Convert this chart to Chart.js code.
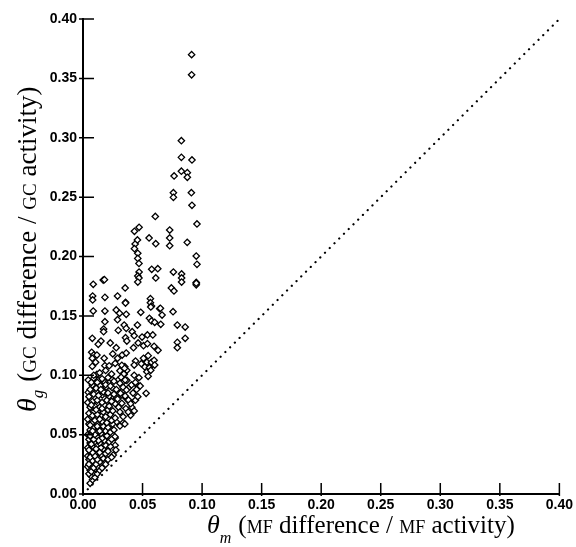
<!DOCTYPE html>
<html>
<head>
    <meta charset="UTF-8">
    <title>theta_g vs theta_m</title>
    <script src="https://cdn.jsdelivr.net/npm/chart.js"></script>
    <style>
        html, body { margin: 0; padding: 0; background: #fff; }
        #wrap { width: 576px; height: 547px; }
    </style>
</head>
<body>
<div id="wrap"><canvas id="scatter" width="576" height="547"></canvas></div>
<script>
    // tick values for both axes
    const tickValues = [0, 0.05, 0.1, 0.15, 0.2, 0.25, 0.3, 0.35, 0.4];

    // identity line (theta_g = theta_m)
    const diagX = [0, 0.4];
    const diagY = [0, 0.4];

    // theta_m (MF difference / MF activity)
    const thetaM = [
        0.0912, 0.0912, 0.0826, 0.0826, 0.0915, 0.0765, 0.0826, 0.0876, 0.0876, 0.0759, 0.0759, 0.0910, 0.0915,
        0.0607, 0.0957, 0.0432, 0.0471, 0.0728, 0.0728, 0.0555, 0.0438, 0.0457, 0.0611, 0.0728, 0.0875, 0.0432,
        0.0460, 0.0460, 0.0470, 0.0951, 0.0957, 0.0577, 0.0628, 0.0471, 0.0460, 0.0470, 0.0460, 0.0611, 0.0759,
        0.0828, 0.0828, 0.0828, 0.0951, 0.0951, 0.0951, 0.0742, 0.0764, 0.0086, 0.0170, 0.0180, 0.0354, 0.0081,
        0.0081, 0.0184, 0.0290, 0.0357, 0.0357, 0.0566, 0.0566, 0.0575, 0.0644,
        // 0.10 - 0.16 band
        0.0086, 0.0184, 0.0279, 0.0307, 0.0363, 0.0485, 0.0569, 0.0650, 0.0664, 0.0756, 0.0184, 0.0290, 0.0346,
        0.0363, 0.0457, 0.0558, 0.0575, 0.0602, 0.0653, 0.0792, 0.0858, 0.0858, 0.0792, 0.0792, 0.0173, 0.0173,
        0.0296, 0.0413, 0.0430, 0.0496, 0.0541, 0.0586, 0.0078, 0.0151, 0.0128, 0.0229, 0.0279, 0.0357, 0.0368,
        0.0424, 0.0463, 0.0508, 0.0541, 0.0597, 0.0630, 0.0073, 0.0090, 0.0078, 0.0117, 0.0106, 0.0078, 0.0178,
        0.0184, 0.0329, 0.0363, 0.0290, 0.0441, 0.0430, 0.0508, 0.0547, 0.0490, 0.0536, 0.0575, 0.0597, 0.0519,
        0.0558, 0.0602, 0.0536, 0.0569, 0.0547, 0.0351, 0.0368, 0.0346, 0.0117, 0.0530,
        // 0.08 - 0.10
        0.0044, 0.0090, 0.0128, 0.0184, 0.0240, 0.0296, 0.0329, 0.0368, 0.0407, 0.0463, 0.0379, 0.0329, 0.0245,
        0.0195, 0.0145, 0.0078, 0.0044, 0.0111, 0.0162, 0.0218, 0.0279, 0.0324, 0.0363, 0.0391,
        // column at 0.03 - 0.05
        0.0326, 0.0349, 0.0310, 0.0343, 0.0320, 0.0354, 0.0310, 0.0337, 0.0365, 0.0315, 0.0354, 0.0382, 0.0326,
        0.0299, 0.0310, 0.0337, 0.0399, 0.0281, 0.0310, 0.0248, 0.0226, 0.0198, 0.0170, 0.0270,
        0.0360, 0.0380, 0.0410, 0.0430, 0.0400, 0.0440, 0.0460, 0.0420, 0.0450, 0.0480, 0.0440, 0.0470, 0.0430,
        0.0270, 0.0276, 0.0254, 0.0268, 0.0337, 0.0351,
        // dense cloud near the origin
        0.006, 0.008, 0.007, 0.010, 0.005, 0.009, 0.012, 0.006, 0.011, 0.014, 0.004, 0.008, 0.012, 0.016, 0.019,
        0.006, 0.010, 0.014, 0.005, 0.009, 0.013, 0.017, 0.021, 0.004, 0.007, 0.011, 0.015, 0.019, 0.024, 0.006,
        0.009, 0.013, 0.017, 0.021, 0.004, 0.008, 0.012, 0.015, 0.019, 0.023, 0.006, 0.010, 0.014, 0.018, 0.022,
        0.005, 0.008, 0.012, 0.016, 0.020, 0.024, 0.004, 0.007, 0.011, 0.015, 0.019, 0.023, 0.006, 0.009, 0.013,
        0.017, 0.021, 0.026, 0.005, 0.008, 0.012, 0.016, 0.020, 0.024, 0.004, 0.007, 0.011, 0.015, 0.019, 0.023,
        0.027, 0.005, 0.009, 0.013, 0.017, 0.021, 0.025, 0.006, 0.010, 0.014, 0.018, 0.022, 0.027, 0.004, 0.008,
        0.012, 0.016, 0.020, 0.024, 0.029,
        0.007, 0.009, 0.005, 0.011, 0.008, 0.012, 0.006, 0.010, 0.014, 0.008, 0.005, 0.011, 0.007, 0.013, 0.009,
        0.006, 0.010, 0.014, 0.008, 0.012, 0.006, 0.010, 0.014, 0.008, 0.012, 0.016, 0.011, 0.007,
        0.005, 0.009, 0.013, 0.017, 0.021, 0.026, 0.006, 0.011, 0.015, 0.019, 0.023, 0.028, 0.007, 0.012, 0.016,
        0.021, 0.026, 0.009, 0.014, 0.019, 0.024, 0.022, 0.027, 0.025
    ];

    // theta_g (GC difference / GC activity), same order as thetaM
    const thetaG = [
        0.370, 0.353, 0.2975, 0.2835, 0.2813, 0.2678, 0.2718, 0.2706, 0.2667, 0.2537, 0.2498, 0.2537, 0.2431,
        0.2337, 0.2274, 0.2212, 0.2246, 0.2223, 0.2156, 0.2156, 0.2105, 0.2139, 0.2108, 0.2091, 0.2119, 0.2066,
        0.2027, 0.1984, 0.1942, 0.2004, 0.1934, 0.1892, 0.1897, 0.1869, 0.1836, 0.1819, 0.1785, 0.1819, 0.1869,
        0.1853, 0.1819, 0.1785, 0.1782, 0.1762, 0.1775, 0.1735, 0.1710, 0.1766, 0.1802, 0.1805, 0.1735, 0.1667,
        0.1634, 0.1656, 0.1667, 0.1614, 0.1608, 0.1645, 0.1611, 0.1583, 0.1560,
        0.1541, 0.1541, 0.1550, 0.1522, 0.1513, 0.1530, 0.1575, 0.1564, 0.1507, 0.1535, 0.1451, 0.1468, 0.1423,
        0.1395, 0.1423, 0.1480, 0.1457, 0.1446, 0.1429, 0.1423, 0.1406, 0.1311, 0.1277, 0.1232, 0.1389, 0.1367,
        0.1378, 0.1367, 0.1333, 0.1322, 0.1339, 0.1339, 0.1311, 0.1288, 0.1261, 0.1272, 0.1232, 0.1316, 0.1288,
        0.1232, 0.1272, 0.1249, 0.1266, 0.1244, 0.1210, 0.1193, 0.1170, 0.1143, 0.1170, 0.1109, 0.1075, 0.1143,
        0.1081, 0.1170, 0.1187, 0.1143, 0.1120, 0.1086, 0.1143, 0.1165, 0.1097, 0.1109, 0.1109, 0.1126, 0.1070,
        0.1064, 0.1086, 0.1030, 0.1042, 0.0991, 0.1072, 0.1042, 0.1008, 0.1008, 0.0848,
        0.0960, 0.0974, 0.0960, 0.0940, 0.0968, 0.0960, 0.0935, 0.0957, 0.0918, 0.0907, 0.0890, 0.0867, 0.0895,
        0.0901, 0.0912, 0.0918, 0.0856, 0.0862, 0.0834, 0.0823, 0.0806, 0.0834, 0.0806, 0.0777,
        0.1084, 0.1058, 0.1038, 0.1011, 0.0983, 0.0960, 0.0932, 0.0898, 0.0876, 0.0848, 0.0825, 0.0792, 0.0764,
        0.0730, 0.0690, 0.0651, 0.0663, 0.0606, 0.0573, 0.0590, 0.0545, 0.0511, 0.0483, 0.0472,
        0.072, 0.069, 0.073, 0.070, 0.076, 0.079, 0.082, 0.085, 0.088, 0.091, 0.094, 0.098, 0.100,
        0.041, 0.037, 0.0328, 0.0483, 0.060, 0.059,
        0.009, 0.012, 0.015, 0.014, 0.017, 0.018, 0.017, 0.020, 0.021, 0.020, 0.023, 0.024, 0.023, 0.022, 0.025,
        0.026, 0.027, 0.027, 0.029, 0.030, 0.031, 0.030, 0.029, 0.032, 0.033, 0.034, 0.033, 0.034, 0.031, 0.036,
        0.037, 0.036, 0.038, 0.036, 0.039, 0.040, 0.041, 0.039, 0.041, 0.040, 0.043, 0.044, 0.043, 0.045, 0.044,
        0.046, 0.047, 0.048, 0.047, 0.049, 0.046, 0.050, 0.051, 0.052, 0.051, 0.053, 0.052, 0.054, 0.056, 0.055,
        0.057, 0.056, 0.054, 0.059, 0.060, 0.059, 0.061, 0.060, 0.062, 0.063, 0.065, 0.064, 0.066, 0.065, 0.067,
        0.064, 0.068, 0.069, 0.070, 0.069, 0.071, 0.070, 0.073, 0.074, 0.073, 0.075, 0.074, 0.076, 0.077, 0.078,
        0.079, 0.077, 0.079, 0.078, 0.080,
        0.019, 0.022, 0.025, 0.025, 0.028, 0.029, 0.031, 0.032, 0.035, 0.035, 0.037, 0.038, 0.042, 0.045, 0.046,
        0.049, 0.050, 0.053, 0.053, 0.057, 0.058, 0.062, 0.063, 0.066, 0.067, 0.072, 0.071, 0.075,
        0.082, 0.084, 0.083, 0.086, 0.085, 0.084, 0.088, 0.089, 0.088, 0.092, 0.091, 0.088, 0.094, 0.094, 0.097,
        0.098, 0.095, 0.100, 0.102, 0.104, 0.101, 0.108, 0.110, 0.118
    ];

    const points = thetaM.map((x, i) => ({ x: x, y: thetaG[i] }));
    const diagonal = diagX.map((x, i) => ({ x: x, y: diagY[i] }));

    // tick marks that sit mostly inside the plot, like the original
    const innerTicks = {
        id: 'innerTicks',
        afterDraw(chart) {
            const ctx = chart.ctx;
            const xs = chart.scales.x, ys = chart.scales.y;
            const area = chart.chartArea;
            ctx.save();
            ctx.strokeStyle = '#000';
            ctx.lineWidth = 1.5;
            ctx.beginPath();
            tickValues.forEach(v => {
                const px = xs.getPixelForValue(v);
                ctx.moveTo(px, area.bottom + 2);
                ctx.lineTo(px, area.bottom - 11);
                const py = ys.getPixelForValue(v);
                ctx.moveTo(area.left - 4, py);
                ctx.lineTo(area.left + 11, py);
            });
            ctx.stroke();
            ctx.restore();
        }
    };

    // draws a run of text pieces one after another
    function drawRun(ctx, parts, x, y) {
        parts.forEach(p => {
            ctx.font = p.font;
            ctx.fillText(p.text, x, y + (p.dy || 0));
            x += ctx.measureText(p.text).width + (p.gap || 0);
        });
    }

    const serif = '"Liberation Serif", "DejaVu Serif", serif';
    const axisTitles = {
        id: 'axisTitles',
        afterDraw(chart) {
            const ctx = chart.ctx;
            ctx.save();
            ctx.fillStyle = '#000';
            ctx.textBaseline = 'alphabetic';
            ctx.textAlign = 'left';

            const xParts = [
                { text: 'θ', font: 'italic 26px ' + serif },
                { text: 'm', font: 'italic 16px ' + serif, dy: 10, gap: 7 },
                { text: '(', font: '25px ' + serif },
                { text: 'MF', font: '18px ' + serif },
                { text: ' difference / ', font: '25px ' + serif },
                { text: 'MF', font: '18px ' + serif },
                { text: ' activity)', font: '25px ' + serif }
            ];
            drawRun(ctx, xParts, 207, 533);

            const yParts = [
                { text: 'θ', font: 'italic 28px ' + serif },
                { text: 'g', font: 'italic 17px ' + serif, dy: 7, gap: 8 },
                { text: '(', font: '27px ' + serif },
                { text: 'GC', font: '19px ' + serif },
                { text: ' difference / ', font: '27px ' + serif },
                { text: 'GC', font: '19px ' + serif },
                { text: ' activity)', font: '27px ' + serif }
            ];
            ctx.translate(36, 412);
            ctx.rotate(-Math.PI / 2);
            drawRun(ctx, yParts, 0, 0);
            ctx.restore();
        }
    };

    const tickFont = { family: '"Liberation Sans", Arial, sans-serif', size: 14, weight: 'bold' };

    new Chart(document.getElementById('scatter'), {
        type: 'scatter',
        data: {
            datasets: [
                {
                    label: 'identity',
                    type: 'line',
                    data: diagonal,
                    borderColor: '#000',
                    borderWidth: 2.2,
                    borderDash: [0.1, 6.6],
                    borderCapStyle: 'round',
                    pointRadius: 0,
                    fill: false
                },
                {
                    label: 'theta',
                    data: points,
                    pointStyle: 'rectRot',
                    pointRadius: 3.2,
                    pointBorderWidth: 1.3,
                    borderColor: '#000',
                    backgroundColor: '#fff'
                }
            ]
        },
        options: {
            responsive: false,
            animation: false,
            layout: { padding: { top: 19, right: 15, left: 0, bottom: 0 } },
            scales: {
                x: {
                    type: 'linear',
                    min: 0,
                    max: 0.4,
                    afterFit(scale) { scale.height = 53; },
                    afterBuildTicks(scale) { scale.ticks = tickValues.map(v => ({ value: v })); },
                    grid: { display: false, drawTicks: false },
                    border: { display: true, color: '#000', width: 2 },
                    ticks: {
                        color: '#000',
                        font: tickFont,
                        padding: 3,
                        maxRotation: 0,
                        callback: v => v.toFixed(2)
                    }
                },
                y: {
                    type: 'linear',
                    min: 0,
                    max: 0.4,
                    afterFit(scale) { scale.width = 83; },
                    afterBuildTicks(scale) { scale.ticks = tickValues.map(v => ({ value: v })); },
                    grid: { display: false, drawTicks: false },
                    border: { display: true, color: '#000', width: 2 },
                    ticks: {
                        color: '#000',
                        font: tickFont,
                        padding: 6,
                        callback: v => v.toFixed(2)
                    }
                }
            },
            plugins: {
                legend: { display: false },
                tooltip: { enabled: false }
            }
        },
        plugins: [innerTicks, axisTitles]
    });
</script>
</body>
</html>
